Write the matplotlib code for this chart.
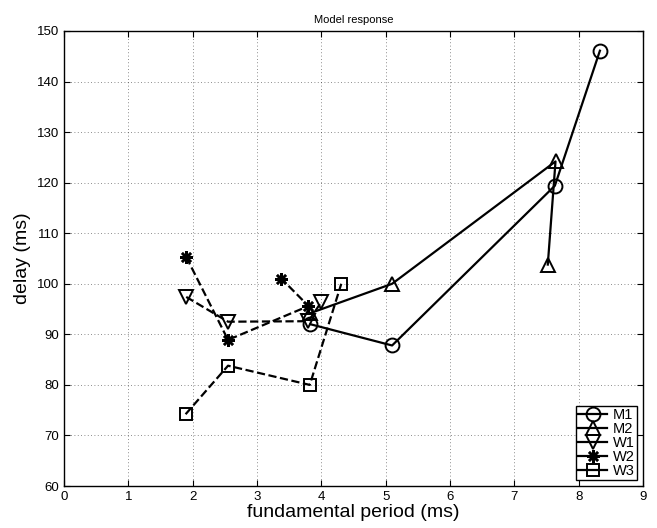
import matplotlib
matplotlib.use("Agg")
import matplotlib.pyplot as plt

plt.rcParams['font.family'] = ['Liberation Sans', 'DejaVu Sans']

# series (fundamental period in ms, delay in ms)
m1_x = [3.83, 5.10, 7.63, 8.33]
m1_y = [92.0, 87.8, 119.4, 146.1]
m2_x = [3.83, 5.10, 7.64, 7.52]
m2_y = [94.2, 100.0, 124.2, 103.8]
w1_x = [1.90, 2.55, 3.80, 4.00]
w1_y = [97.4, 92.5, 92.6, 96.4]
w2_x = [1.90, 2.55, 3.80, 3.38]
w2_y = [105.3, 88.9, 95.6, 101.0]
w3_x = [1.89, 2.55, 3.82, 4.31]
w3_y = [74.2, 83.8, 80.0, 100.0]

labels = ['M1', 'M2', 'W1', 'W2', 'W3']

fig = plt.figure(figsize=(6.57, 5.28), dpi=100)
ax = fig.add_axes([0.0974, 0.0795, 0.8813, 0.8618])

style = dict(color='black', lw=1.6, ms=10, mfc='none', mew=1.4)
asterisk = (8, 2, 0)
ax.plot(m1_x, m1_y, 'o-', label=labels[0], **style)
ax.plot(m2_x, m2_y, '^-', label=labels[1], **style)
ax.plot(w1_x, w1_y, 'v--', label=labels[2], **style)
ax.plot(w2_x, w2_y, ls='--', marker=asterisk, label=labels[3],
        **dict(style, ms=9, mew=1.8))
ax.plot(w3_x, w3_y, 's--', label=labels[4], **dict(style, ms=8))

ax.set_xlim(0, 9)
ax.set_ylim(60, 150)
ax.set_xticks(range(0, 10))
ax.set_yticks(range(60, 151, 10))
ax.tick_params(direction='in', top=True, right=True, labelsize=9.5, length=4)
ax.grid(True, linestyle=(0, (1, 3)), color='black', lw=0.6, alpha=0.6)
for sp in ax.spines.values():
    sp.set_linewidth(1.0)

ax.set_xlabel('fundamental period (ms)', fontsize=14, labelpad=1)
ax.set_ylabel('delay (ms)', fontsize=14, labelpad=4)
ax.set_title('Model response', fontsize=8, pad=6)

leg = ax.legend(loc='lower right', fontsize=10.5, handlelength=2.0,
                fancybox=False, edgecolor='black', framealpha=1,
                borderpad=0.15, labelspacing=0.0, handletextpad=0.4,
                borderaxespad=0.4)
leg.get_frame().set_linewidth(1.0)
for line in leg.get_lines():
    line.set_linestyle('-')

fig.savefig('out.png', dpi=100)
